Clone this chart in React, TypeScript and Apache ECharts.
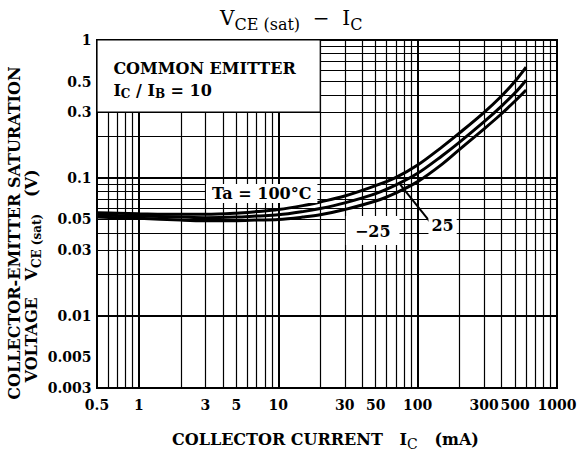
import { useEffect, useRef } from 'react';
import * as echarts from 'echarts';

const FONT = "'DejaVu Serif', serif";

// Collector current (mA) and VCE(sat) (V)
const IC_MA = [0.5, 0.7, 1, 2, 3, 5, 7, 10, 15, 20, 30, 50, 70, 100, 150, 200, 300, 400, 500, 600];
const VCE_100 = [0.056, 0.0555, 0.055, 0.0545, 0.0545, 0.0555, 0.057, 0.059, 0.063, 0.067, 0.074, 0.088, 0.101, 0.124, 0.168, 0.212, 0.299, 0.393, 0.502, 0.636];
const VCE_25 = [0.054, 0.0535, 0.053, 0.052, 0.0515, 0.052, 0.053, 0.054, 0.057, 0.06, 0.066, 0.077, 0.089, 0.108, 0.145, 0.182, 0.256, 0.332, 0.414, 0.511];
const VCE_M25 = [0.052, 0.0515, 0.051, 0.0495, 0.049, 0.049, 0.0495, 0.05, 0.052, 0.054, 0.059, 0.068, 0.078, 0.094, 0.126, 0.161, 0.227, 0.292, 0.361, 0.434];

const X_TICKS = [0.5, 1, 3, 5, 10, 30, 50, 100, 300, 500, 1000];
const X_TICK_LABELS = ['0.5', '1', '3', '5', '10', '30', '50', '100', '300', '500', '1000'];
const Y_TICKS = [1, 0.5, 0.3, 0.1, 0.05, 0.03, 0.01, 0.005, 0.003];
const Y_TICK_LABELS = ['1', '0.5', '0.3', '0.1', '0.05', '0.03', '0.01', '0.005', '0.003'];

const X_GRID = [0.6, 0.7, 0.8, 0.9, 1, 2, 3, 4, 5, 6, 7, 8, 9, 10, 20, 30, 40, 50, 60, 70, 80, 90, 100, 200, 300, 400, 500, 600, 700, 800, 900];
const Y_GRID = [0.004, 0.005, 0.006, 0.007, 0.008, 0.009, 0.01, 0.02, 0.03, 0.04, 0.05, 0.06, 0.07, 0.08, 0.09, 0.1, 0.2, 0.3, 0.4, 0.5, 0.6, 0.7, 0.8, 0.9];
const X_MAJOR = [1, 10, 100];
const Y_MAJOR = [0.01, 0.1];

const X_MIN = 0.5, X_MAX = 1000, Y_MIN = 0.003, Y_MAX = 1;

// box "COMMON EMITTER"
const BOX_FROM = [0.5, 0.3];
const BOX_TO = [20, 1];

const zip = (xs: number[], ys: number[]) => xs.map((x, i) => [x, ys[i]]);

export default function App() {
  const ref = useRef<HTMLDivElement>(null);
  useEffect(() => {
    document.body.style.margin = '0';
    if (!ref.current) return;
    const chart = echarts.init(ref.current, undefined, { renderer: 'svg' });

    const sub = { fontFamily: FONT, fontWeight: 'bold' as const, color: '#000' };

    const curve = (name: string, ys: number[]) => ({
      name,
      type: 'line',
      data: zip(IC_MA, ys),
      showSymbol: false,
      symbol: 'none',
      smooth: 0.35,
      z: 3,
      lineStyle: { color: '#000', width: 3 },
      silent: true,
    });

    const option: any = {
      animation: false,
      backgroundColor: '#fff',
      grid: {
        left: 97, right: 21, top: 40, bottom: 69,
        show: true, borderColor: '#000', borderWidth: 2, backgroundColor: '#fff',
      },
      xAxis: {
        type: 'log', logBase: 10, min: X_MIN, max: X_MAX,
        axisLabel: { show: false }, axisTick: { show: false },
        axisLine: { show: false }, splitLine: { show: false },
      },
      yAxis: {
        type: 'log', logBase: 10, min: Y_MIN, max: Y_MAX,
        axisLabel: { show: false }, axisTick: { show: false },
        axisLine: { show: false }, splitLine: { show: false },
      },
      graphic: [
        {
          type: 'text', x: 220, y: 20, z: 10,
          style: {
            text: '{v|V}{s|CE (sat)}{v|  −  I}{s|C}',
            align: 'left', verticalAlign: 'middle',
            rich: {
              v: { fontFamily: FONT, fontSize: 20, color: '#000', lineHeight: 24, verticalAlign: 'top' },
              s: { fontFamily: FONT, fontSize: 16, color: '#000', lineHeight: 18, verticalAlign: 'bottom' },
            },
          },
        },
        {
          type: 'text', x: 14, y: 233, rotation: Math.PI / 2, z: 10,
          style: {
            text: 'COLLECTOR-EMITTER SATURATION',
            fontFamily: FONT, fontSize: 16, fontWeight: 'bold', fill: '#000',
            align: 'center', verticalAlign: 'middle',
          },
        },
        {
          type: 'text', x: 33, y: 276, rotation: Math.PI / 2, z: 10,
          style: {
            text: '{n|VOLTAGE   V}{s|CE (sat)}{n|   (V)}',
            align: 'center', verticalAlign: 'middle',
            rich: {
              n: { ...sub, fontSize: 16, lineHeight: 20, verticalAlign: 'top' },
              s: { ...sub, fontSize: 12, lineHeight: 15, verticalAlign: 'bottom' },
            },
          },
        },
        {
          type: 'text', x: 172, y: 441, z: 10,
          style: {
            text: '{n|COLLECTOR CURRENT   I}{s|C}{n|   (mA)}',
            align: 'left', verticalAlign: 'middle',
            rich: {
              n: { ...sub, fontSize: 16, lineHeight: 20, verticalAlign: 'top' },
              s: { fontFamily: FONT, color: '#000', fontSize: 14, lineHeight: 17, verticalAlign: 'bottom' },
            },
          },
        },
      ],
      series: [
        {
          name: 'grid-lines', type: 'line', data: [], silent: true,
          markLine: {
            silent: true, symbol: ['none', 'none'], z: 1, animation: false,
            label: { show: false },
            lineStyle: { color: '#000', type: 'solid', width: 1.2 },
            emphasis: { disabled: true },
            data: [
              ...X_GRID.map((v) => ({ xAxis: v, lineStyle: { color: '#000', type: 'solid', width: X_MAJOR.includes(v) ? 2 : 1.2 } })),
              ...Y_GRID.map((v) => ({ yAxis: v, lineStyle: { color: '#000', type: 'solid', width: Y_MAJOR.includes(v) ? 2.2 : 1.2 } })),
            ],
          },
        },
        {
          name: 'box', type: 'line', data: [], silent: true,
          markArea: {
            silent: true, z: 2,
            itemStyle: { color: '#fff', borderColor: '#000', borderWidth: 1.2 },
            label: { show: false },
            emphasis: { disabled: true },
            data: [[{ coord: BOX_FROM }, { coord: BOX_TO }]],
          },
        },
        curve('Ta=100°C', VCE_100),
        curve('Ta=25°C', VCE_25),
        curve('Ta=-25°C', VCE_M25),
        {
          name: 'annotations', type: 'line', data: [], silent: true,
          markLine: {
            silent: true, symbol: ['none', 'none'], z: 4,
            label: { show: false },
            lineStyle: { color: '#000', type: 'solid', width: 2 },
            data: [[{ coord: [74, 0.091] }, { coord: [124, 0.0475] }]],
          },
          markPoint: {
            silent: true, z: 6, symbol: 'circle', symbolSize: 1,
            itemStyle: { color: 'transparent' },
            label: {
              show: true, formatter: (p: any) => p.name, color: '#000',
              fontFamily: FONT, fontWeight: 'bold', fontSize: 16,
              rich: {
                n: { ...sub, fontSize: 16 },
                s: { ...sub, fontSize: 12, padding: [7, 0, 0, 0] },
              },
            },
            data: [
              { name: 'COMMON EMITTER', coord: [0.65, 0.626], label: { position: 'right', distance: 0 } },
              { name: '{n|I}{s|C}{n| / I}{s|B}{n| = 10}', coord: [0.65, 0.433], label: { position: 'right', distance: 0 } },
              { name: 'Ta = 100°C', coord: [7.6, 0.0772], label: { position: 'inside', backgroundColor: '#fff', padding: [2, 6, 1, 6] } },
              { name: '−25', coord: [47.6, 0.0415], label: { position: 'inside', backgroundColor: '#fff', padding: [7, 9, 6, 9] } },
              { name: '25', coord: [151, 0.0451], label: { position: 'inside', backgroundColor: '#fff', padding: [3, 3, 3, 3] } },
            ],
          },
        },
        {
          name: 'tick-labels', type: 'line', data: [], silent: true,
          markPoint: {
            silent: true, z: 6, symbol: 'circle', symbolSize: 1,
            itemStyle: { color: 'transparent' },
            label: {
              show: true, formatter: (p: any) => p.name, color: '#000',
              fontFamily: FONT, fontWeight: 'bold', fontSize: 14,
            },
            data: [
              ...X_TICKS.map((v, i) => ({ name: X_TICK_LABELS[i], coord: [v, Y_MIN], label: { position: 'bottom', distance: 9 } })),
              ...Y_TICKS.map((v, i) => ({ name: Y_TICK_LABELS[i], coord: [X_MIN, v], label: { position: 'left', distance: 5 } })),
            ],
          },
        },
      ],
    };
    chart.setOption(option);
    return () => chart.dispose();
  }, []);
  return <div ref={ref} style={{ width: 578, height: 457 }} />;
}
